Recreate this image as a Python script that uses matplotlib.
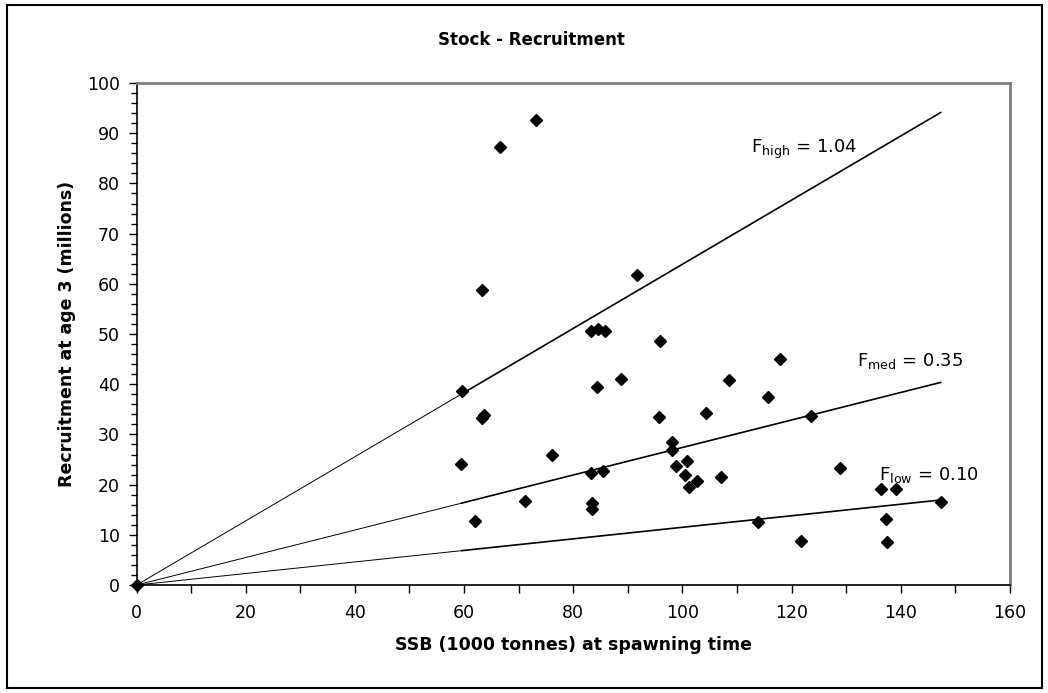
import matplotlib
matplotlib.use("Agg")
import matplotlib.pyplot as plt
from matplotlib.patches import Rectangle
from matplotlib.ticker import MultipleLocator

plt.rcParams['font.family'] = ['DejaVu Sans']
plt.rcParams['mathtext.fontset'] = 'dejavusans'

# Observed stock-recruitment pairs
ssb = [73.1, 66.6, 63.2, 91.6, 59.6, 63.3, 63.6, 59.5, 76.1, 83.2, 84.5, 85.8,
       95.9, 84.4, 88.7, 108.5, 95.7, 104.3, 98.0, 98.1, 83.2, 85.4, 98.8, 100.8,
       100.4, 102.6, 101.2, 107.0, 71.2, 83.4, 83.4, 62.0, 117.9, 115.7, 123.5,
       128.9, 136.4, 139.1, 147.3, 113.8, 137.3, 121.7, 137.5, 0.0]
recruits = [92.7, 87.3, 58.8, 61.8, 38.7, 33.3, 33.9, 24.2, 26.0, 50.6, 51.1, 50.6,
            48.7, 39.4, 41.0, 40.8, 33.4, 34.2, 28.5, 26.8, 22.3, 22.8, 23.8, 24.8,
            21.9, 20.7, 19.6, 21.6, 16.8, 16.3, 15.1, 12.7, 45.1, 37.4, 33.7,
            23.4, 19.1, 19.1, 16.5, 12.5, 13.1, 8.8, 8.6, 0.0]

# Replacement lines (R/SSB slopes)
line_names = ["high", "med", "low"]
line_labels = ["1.04", "0.35", "0.10"]
line_slopes = [0.639, 0.274, 0.115]
ssb_min = 59.6
ssb_max = 147.3

x_ticks = [0, 20, 40, 60, 80, 100, 120, 140, 160]
y_ticks = [0, 10, 20, 30, 40, 50, 60, 70, 80, 90, 100]

fig = plt.figure(figsize=(10.48, 6.93), dpi=100)
ax = fig.add_axes([0.1303, 0.1558, 0.9637 - 0.1303, 0.8802 - 0.1558])

for s in line_slopes:
    ax.plot([0, ssb_min], [0, s * ssb_min], color='black', lw=0.7, zorder=2)
    ax.plot([ssb_min, ssb_max], [s * ssb_min, s * ssb_max], color='black', lw=1.2, zorder=2)

ax.plot(ssb, recruits, linestyle='none', marker='D', markersize=6.5,
        color='black', zorder=3, clip_on=False)

ax.set_xlim(0, 160)
ax.set_ylim(0, 100)
ax.set_xticks(x_ticks)
ax.set_yticks(y_ticks)
ax.xaxis.set_minor_locator(MultipleLocator(10))
ax.yaxis.set_minor_locator(MultipleLocator(2))
ax.tick_params(axis='both', which='both', direction='out', labelsize=12.5, color='black')
ax.tick_params(axis='x', which='both', length=6, width=1, pad=8)
ax.tick_params(axis='y', which='major', length=6, width=1, pad=6)
ax.tick_params(axis='y', which='minor', length=4, width=1)

for side in ['left', 'bottom']:
    ax.spines[side].set_color('black')
    ax.spines[side].set_linewidth(1.2)
for side in ['top', 'right']:
    ax.spines[side].set_color('#808080')
    ax.spines[side].set_linewidth(2)

ax.set_xlabel('SSB (1000 tonnes) at spawning time', fontsize=12.5, fontweight='bold', labelpad=10)
ax.set_ylabel('Recruitment at age 3 (millions)', fontsize=12.5, fontweight='bold', labelpad=8)

fig.text(531 / 1048, 1 - 40 / 693, 'Stock - Recruitment', ha='center', va='center',
         fontsize=12, fontweight='bold')

label_pos = [(112.5, 86.8), (132.0, 44.6), (136.0, 22.0)]
for name, lab, (lx, ly) in zip(line_names, line_labels, label_pos):
    ax.text(lx, ly, r'F$_{\mathrm{%s}}$ = %s' % (name, lab), fontsize=13,
            ha='left', va='center')

fig.patches.append(Rectangle((7 / 1048, 1 - 688 / 693), (1042 - 7) / 1048, (688 - 5) / 693,
                             transform=fig.transFigure, fill=False, edgecolor='black',
                             linewidth=1.5))

fig.savefig('out.png', dpi=100)
